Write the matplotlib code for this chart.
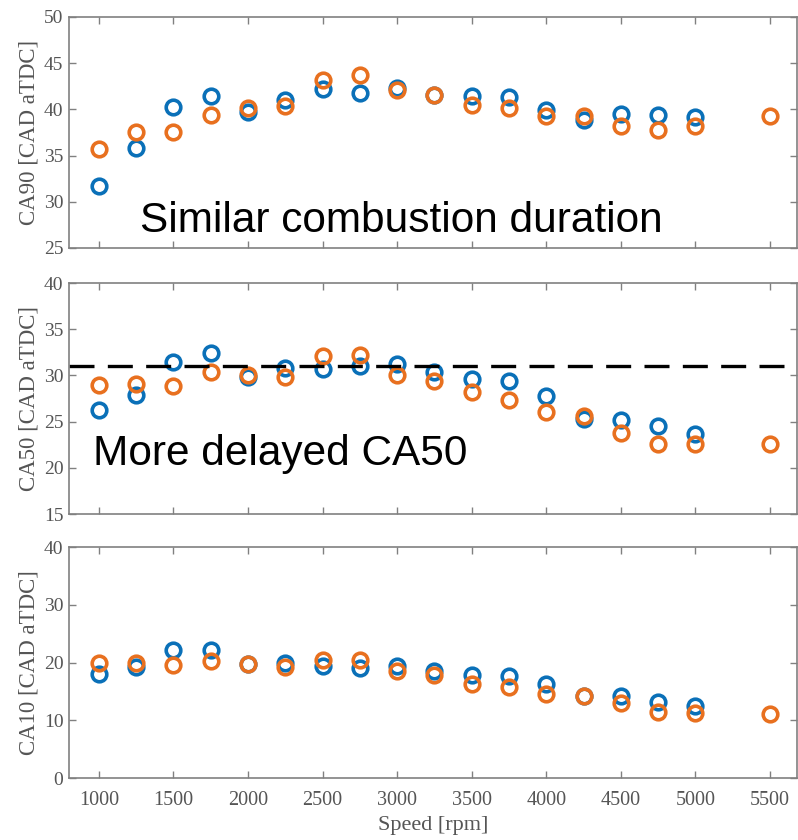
import numpy as np
import matplotlib
matplotlib.use("Agg")
import matplotlib.pyplot as plt

# engine speed [rpm]
speed = [1000, 1250, 1500, 1750, 2000, 2250, 2500, 2750, 3000,
         3250, 3500, 3750, 4000, 4250, 4500, 4750, 5000, 5500]

# blue series has no point at 5500 rpm
ca90_blue = [31.7, 35.8, 40.3, 41.5, 39.7, 41.0, 42.2, 41.8, 42.3,
             41.6, 41.4, 41.3, 39.9, 38.9, 39.5, 39.4, 39.2, np.nan]
ca90_orange = [35.7, 37.5, 37.5, 39.4, 40.2, 40.4, 43.2, 43.7, 42.1,
               41.6, 40.5, 40.1, 39.3, 39.3, 38.2, 37.8, 38.2, 39.3]

ca50_blue = [26.3, 27.9, 31.5, 32.4, 29.8, 30.8, 30.7, 31.0, 31.2,
             30.4, 29.6, 29.4, 27.8, 25.3, 25.2, 24.5, 23.7, np.nan]
ca50_orange = [29.0, 29.1, 28.9, 30.4, 30.1, 29.8, 32.1, 32.2, 30.1,
               29.4, 28.2, 27.3, 26.1, 25.6, 23.8, 22.6, 22.6, 22.6]
ca50_ref = 31.0

ca10_blue = [18.0, 19.2, 22.1, 22.2, 19.8, 19.9, 19.4, 19.0, 19.4,
             18.5, 17.9, 17.6, 16.3, 14.2, 14.2, 13.1, 12.4, np.nan]
ca10_orange = [20.0, 20.0, 19.6, 20.3, 19.8, 19.3, 20.4, 20.4, 18.6,
               17.8, 16.3, 15.8, 14.6, 14.2, 13.0, 11.4, 11.3, 11.0]

x_ticks = [1000, 1500, 2000, 2500, 3000, 3500, 4000, 4500, 5000, 5500]

BLUE = "#0A70B8"
ORANGE = "#E8701F"
GREY = "#555555"
SERIF = ["Liberation Serif", "DejaVu Serif"]
SANS = ["Liberation Sans", "DejaVu Sans"]

fig = plt.figure(figsize=(7.98, 8.4), dpi=100)

panels = [
    # (bottom, ylim, yticks, label, blue, orange)
    (0.7048, (25, 50), [25, 30, 35, 40, 45, 50], "CA90 [CAD aTDC]", ca90_blue, ca90_orange),
    (0.3880, (15, 40), [15, 20, 25, 30, 35, 40], "CA50 [CAD aTDC]", ca50_blue, ca50_orange),
    (0.0738, (0, 40), [0, 10, 20, 30, 40], "CA10 [CAD aTDC]", ca10_blue, ca10_orange),
]

axes = []
for bottom, ylim, yticks, ylabel, yb, yo in panels:
    ax = fig.add_axes([0.0865, bottom, 0.912, 0.275])
    ax.plot(speed, yb, "o", mfc="none", mec=BLUE, ms=10.5, mew=2.6)
    ax.plot(speed, yo, "o", mfc="none", mec=ORANGE, ms=10.5, mew=2.6)
    ax.set_xlim(800, 5680)
    ax.set_ylim(*ylim)
    ax.set_yticks(yticks)
    ax.set_xticks(x_ticks)
    ax.tick_params(direction="in", top=True, right=True, length=5,
                   width=1, color="#808080", labelcolor=GREY)
    ax.tick_params(axis="y", labelsize=14, pad=4)
    ax.tick_params(axis="x", labelsize=14.5, pad=9)
    for lab in ax.get_yticklabels() + ax.get_xticklabels():
        lab.set_family(SERIF)
    for s in ax.spines.values():
        s.set_color("#808080")
        s.set_linewidth(1.2)
    ax.set_ylabel(ylabel, family=SERIF, fontsize=16.5, color=GREY, labelpad=3)
    axes.append(ax)

axes[0].tick_params(labelbottom=False)
axes[1].tick_params(labelbottom=False)

axes[1].axhline(ca50_ref, color="black", lw=2.4, ls=(0, (7.5, 4)))

axes[0].text(0.097, 0.07, "Similar combustion duration", transform=axes[0].transAxes,
             family=SANS, fontsize=30.5, color="black")
axes[1].text(0.033, 0.212, "More delayed CA50", transform=axes[1].transAxes,
             family=SANS, fontsize=30.5, color="black")

axes[2].set_xlabel("Speed [rpm]", family=SERIF, fontsize=16, color=GREY, labelpad=5)

fig.savefig("out.png", dpi=100)
